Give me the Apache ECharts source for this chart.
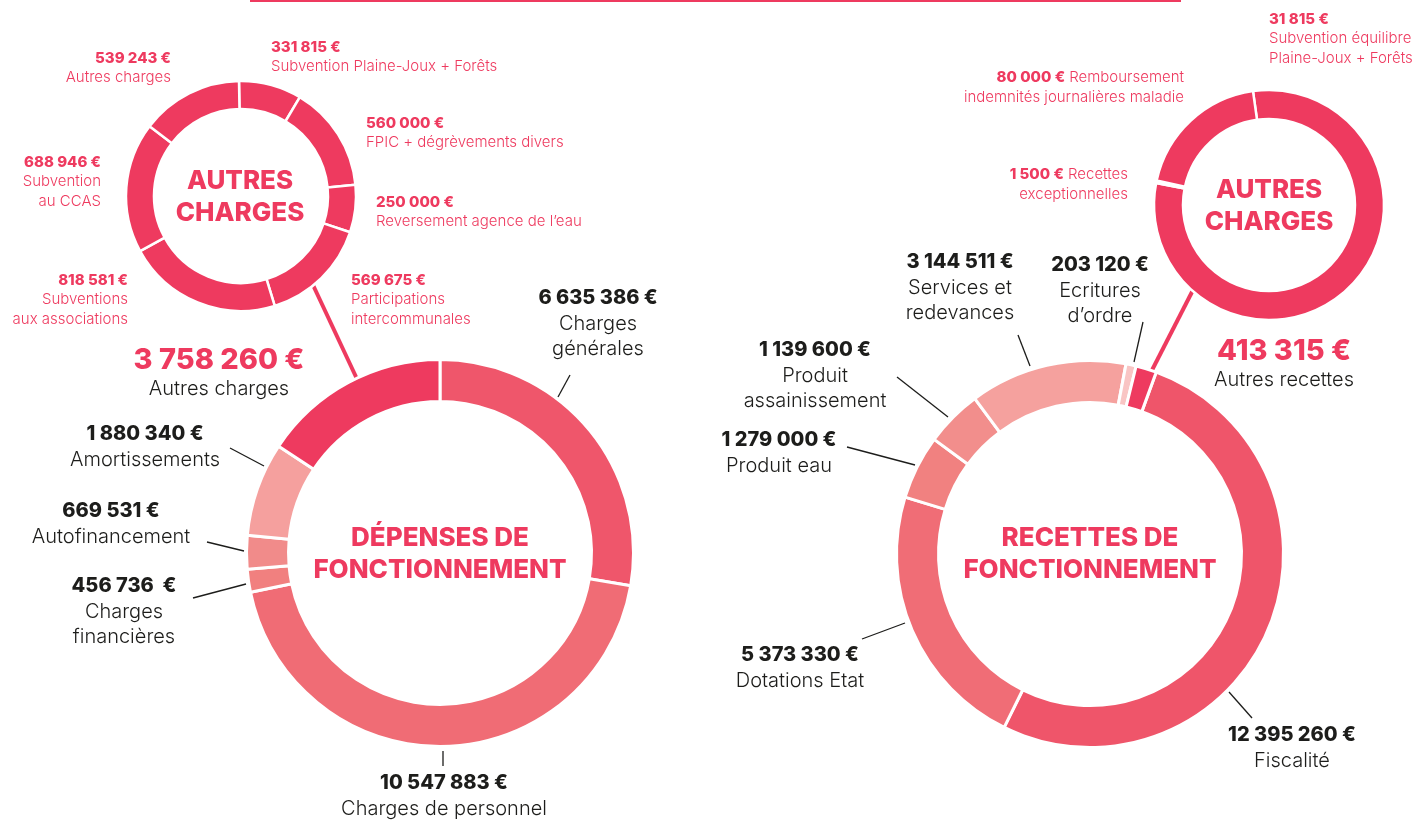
<!DOCTYPE html>
<html>
<head>
<meta charset="utf-8">
<script src="https://cdn.jsdelivr.net/npm/echarts@6/dist/echarts.min.js"></script>
<style>
  html, body { margin: 0; padding: 0; background: #fff; }
  #budget { width: 1417px; height: 820px; }
</style>
</head>
<body>
<div id="budget"></div>
<script>
// Dépenses de fonctionnement (clockwise from the top)
var depensesNames = ['Charges générales', 'Charges de personnel', 'Charges financières', 'Autofinancement', 'Amortissements', 'Autres charges'];
var depensesValues = [6635386, 10547883, 456736, 669531, 1880340, 3758260];

// Autres charges detail
var autresChargesNames = ['Subvention Plaine-Joux + Forêts', 'FPIC + dégrèvements divers', 'Reversement agence de l\'eau', 'Participations intercommunales', 'Subventions aux associations', 'Subvention au CCAS', 'Autres charges'];
var autresChargesValues = [331815, 560000, 250000, 569675, 818581, 688946, 539243];

// Recettes de fonctionnement
var recettesNames = ['Fiscalité', 'Dotations Etat', 'Produit eau', 'Produit assainissement', 'Services et redevances', 'Ecritures d\'ordre', 'Autres recettes'];
var recettesValues = [12395260, 5373330, 1279000, 1139600, 3144511, 203120, 413315];

// Autres recettes detail (the printed amount of the first one reads 31 815 €)
var autresRecettesNames = ['Subvention équilibre Plaine-Joux + Forêts', 'Recettes exceptionnelles', 'Remboursement indemnités journalières maladie'];
var autresRecettesValues = [331815, 1500, 80000];
var autresRecettesPrinted = ['31 815 €', '1 500 €', '80 000 €'];

var RED = '#ee3a5f';
var INK = '#1d1d1b';
var FONT = 'Inter, Roboto, sans-serif';

var depensesColors = ['#ef566b', '#f06c75', '#f1807f', '#f18b8a', '#f5a09e', RED];
var recettesColors = ['#ef556a', '#f06d76', '#f18180', '#f28e8c', '#f5a19e', '#f9c5c4', RED];

function fmt(v) {
  return String(v).replace(/\B(?=(\d{3})+(?!\d))/g, ' ') + ' €';
}

function pieData(names, values, colors) {
  return values.map(function (v, i) {
    return { name: names[i], value: v, itemStyle: { color: colors ? colors[i] : RED } };
  });
}

function donut(name, center, radius, startAngle, data, border) {
  return {
    name: name,
    type: 'pie',
    center: center,
    radius: radius,
    startAngle: startAngle,
    clockwise: true,
    silent: true,
    label: { show: false },
    labelLine: { show: false },
    itemStyle: { borderColor: '#fff', borderWidth: border },
    data: data
  };
}

// text helpers
var els = [];
function txt(x, y, text, size, weight, color, align) {
  els.push({
    type: 'text',
    silent: true,
    style: {
      x: x, y: y, text: text, fill: color,
      font: weight + ' ' + size + 'px ' + FONT,
      align: align || 'center', verticalAlign: 'middle',
      textAlign: align || 'center', textVerticalAlign: 'middle'
    }
  });
}
function bigLabel(x, y, amount, lines) {
  txt(x, y, amount, 20, 800, INK, 'center');
  lines.forEach(function (l, k) { txt(x, y + 26 + k * 25, l, 20, 300, INK, 'center'); });
}
function smallLabel(x, y, amount, lines, align) {
  txt(x, y, amount, 15, 800, RED, align);
  lines.forEach(function (l, k) { txt(x, y + 19.5 + k * 19.5, l, 15, 300, RED, align); });
}
function line(x1, y1, x2, y2, color, width) {
  els.push({
    type: 'line', silent: true,
    shape: { x1: x1, y1: y1, x2: x2, y2: y2 },
    style: { stroke: color, lineWidth: width }
  });
}

// top rule
line(250, 1, 1181, 1, RED, 2);

// connectors between detail rings and main rings
line(313, 285, 357, 379, RED, 4);
line(1193, 290, 1148, 378, RED, 4);

// leader lines
line(558, 397, 570, 375, INK, 1.3);
line(230, 448, 264, 466, INK, 1.3);
line(207, 542, 244, 551, INK, 1.3);
line(193, 598, 246, 584, INK, 1.3);
line(443, 751, 443, 766, INK, 1.3);
line(897, 377, 948, 417, INK, 1.3);
line(847, 447, 915, 465, INK, 1.3);
line(862, 639, 905, 623, INK, 1.3);
line(1229, 692, 1252, 718, INK, 1.3);
line(1018, 335, 1030, 366, INK, 1.3);
line(1143, 322, 1134, 362, INK, 1.3);

// centre titles
txt(240, 181, 'AUTRES', 26, 800, RED);
txt(240, 213, 'CHARGES', 26, 800, RED);
txt(440, 538, 'DÉPENSES DE', 26, 800, RED);
txt(440, 570, 'FONCTIONNEMENT', 26, 800, RED);
txt(1269, 190, 'AUTRES', 26, 800, RED);
txt(1269, 222, 'CHARGES', 26, 800, RED);
txt(1090, 538, 'RECETTES DE', 26, 800, RED);
txt(1090, 570, 'FONCTIONNEMENT', 26, 800, RED);

// dépenses labels
bigLabel(598, 298, fmt(depensesValues[0]), ['Charges', 'générales']);
bigLabel(444, 783, fmt(depensesValues[1]), ['Charges de personnel']);
bigLabel(124, 586, '456 736  €', ['Charges', 'financières']);
bigLabel(111, 511, fmt(depensesValues[3]), ['Autofinancement']);
bigLabel(145, 434, fmt(depensesValues[4]), ['Amortissements']);
txt(219, 360, fmt(depensesValues[5]), 29, 800, RED);
txt(219, 389, depensesNames[5], 20, 300, INK);

// autres charges labels
smallLabel(271, 47, fmt(autresChargesValues[0]), ['Subvention Plaine-Joux + Forêts'], 'left');
smallLabel(366, 123, fmt(autresChargesValues[1]), ['FPIC + dégrèvements divers'], 'left');
smallLabel(376, 202, fmt(autresChargesValues[2]), ['Reversement agence de l\u2019eau'], 'left');
smallLabel(351, 280, fmt(autresChargesValues[3]), ['Participations', 'intercommunales'], 'left');
smallLabel(128, 280, fmt(autresChargesValues[4]), ['Subventions', 'aux associations'], 'right');
smallLabel(101, 162, fmt(autresChargesValues[5]), ['Subvention', 'au CCAS'], 'right');
smallLabel(171, 58, fmt(autresChargesValues[6]), ['Autres charges'], 'right');

// recettes labels
bigLabel(1292, 735, fmt(recettesValues[0]), ['Fiscalité']);
bigLabel(800, 655, fmt(recettesValues[1]), ['Dotations Etat']);
bigLabel(779, 440, fmt(recettesValues[2]), ['Produit eau']);
bigLabel(815, 350, fmt(recettesValues[3]), ['Produit', 'assainissement']);
bigLabel(960, 262, fmt(recettesValues[4]), ['Services et', 'redevances']);
bigLabel(1100, 265, fmt(recettesValues[5]), ['Ecritures', 'd\u2019ordre']);
txt(1284, 351, fmt(recettesValues[6]), 29, 800, RED);
txt(1284, 380, recettesNames[6], 20, 300, INK);

// autres recettes labels
smallLabel(1269, 19, autresRecettesPrinted[0], ['Subvention équilibre', 'Plaine-Joux + Forêts'], 'left');
els.push({
  type: 'text', silent: true,
  style: {
    x: 1184, y: 77, text: '{b|' + autresRecettesPrinted[2] + '} Remboursement', fill: RED,
    font: '300 15px ' + FONT, align: 'right', verticalAlign: 'middle', textAlign: 'right', textVerticalAlign: 'middle',
    rich: { b: { fontWeight: 800, fontSize: 15, fontFamily: FONT, fill: RED } }
  }
});
txt(1184, 97, 'indemnités journalières maladie', 15, 300, RED, 'right');
els.push({
  type: 'text', silent: true,
  style: {
    x: 1128, y: 174, text: '{b|' + autresRecettesPrinted[1] + '} Recettes', fill: RED,
    font: '300 15px ' + FONT, align: 'right', verticalAlign: 'middle', textAlign: 'right', textVerticalAlign: 'middle',
    rich: { b: { fontWeight: 800, fontSize: 15, fontFamily: FONT, fill: RED } }
  }
});
txt(1128, 194, 'exceptionnelles', 15, 300, RED, 'right');

var chart = echarts.init(document.getElementById('budget'), null, { renderer: 'canvas' });

var option = {
  animation: false,
  backgroundColor: '#fff',
  series: [
    donut('Dépenses', [440, 553], [151.5, 193.5], 90, pieData(depensesNames, depensesValues, depensesColors), 3),
    donut('Autres charges', [241, 196], [87, 115], 91, pieData(autresChargesNames, autresChargesValues), 2.5),
    donut('Recettes', [1090, 554], [151.5, 193.5], 70, pieData(recettesNames, recettesValues, recettesColors), 3),
    donut('Autres recettes', [1269, 205], [86, 115], 98, pieData(autresRecettesNames, autresRecettesValues), 2.5)
  ],
  graphic: { elements: els }
};

chart.setOption(option);
</script>
</body>
</html>
